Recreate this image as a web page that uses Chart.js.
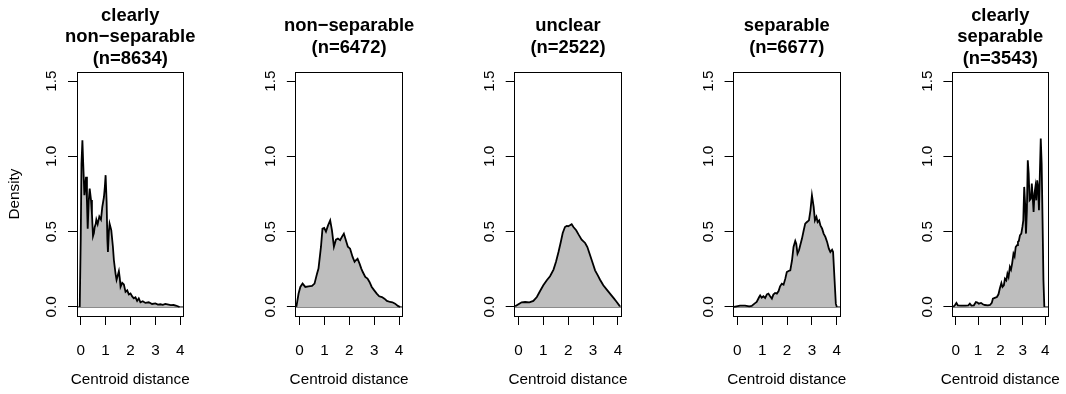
<!DOCTYPE html>
<html>
<head>
<meta charset="utf-8">
<script src="https://cdn.jsdelivr.net/npm/chart.js@4.4.0/dist/chart.umd.min.js"></script>
<style>
  html, body { margin: 0; padding: 0; background: #fff; }
  #wrap { position: relative; width: 1066px; height: 394px; }
  #wrap canvas { position: absolute; left: 0; top: 0; }
</style>
</head>
<body>
<div id="wrap"></div>
<script>
// panel titles, axis ticks and limits
var titles = [
  ["clearly", "non\u2212separable", "(n=8634)"],
  ["non\u2212separable", "(n=6472)"],
  ["unclear", "(n=2522)"],
  ["separable", "(n=6677)"],
  ["clearly", "separable", "(n=3543)"]
];
var xLabel = "Centroid distance";
var yLabel = "Density";
var xTicks = [0, 1, 2, 3, 4];
var yTicks = [0, 0.5, 1, 1.5];
var xRange = [-0.15, 4.13];
var yRange = [-0.06, 1.56];

// density curves, [centroid distance, density]
var clearlyNonSep = [[-0.04,0],[0.0,0.45],[0.03,0.95],[0.067,1.107],[0.1,0.95],[0.147,0.742],[0.18,0.8],[0.213,0.864],[0.25,0.7],[0.28,0.52],[0.32,0.7],[0.36,0.786],[0.413,0.71],[0.45,0.62],[0.493,0.47],[0.53,0.49],[0.56,0.53],[0.6,0.55],[0.627,0.58],[0.68,0.55],[0.72,0.58],[0.747,0.6],[0.813,0.58],[0.867,0.664],[0.933,0.73],[0.97,0.8],[1.0,0.875],[1.04,0.7],[1.07,0.45],[1.093,0.365],[1.13,0.5],[1.16,0.553],[1.227,0.51],[1.293,0.4],[1.333,0.31],[1.4,0.22],[1.44,0.18],[1.49,0.21],[1.533,0.237],[1.57,0.19],[1.6,0.134],[1.667,0.16],[1.733,0.15],[1.8,0.1],[1.867,0.11],[1.933,0.083],[2.0,0.09],[2.067,0.07],[2.133,0.057],[2.2,0.064],[2.267,0.04],[2.333,0.057],[2.4,0.031],[2.493,0.038],[2.6,0.027],[2.733,0.031],[2.867,0.02],[3.0,0.024],[3.1,0.016],[3.2,0.018],[3.3,0.014],[3.4,0.02],[3.533,0.015],[3.62,0.012],[3.733,0.013],[3.85,0.008],[3.973,0]];
var nonSep = [[-0.13,0],[-0.04,0.089],[0.03,0.133],[0.12,0.155],[0.23,0.133],[0.36,0.137],[0.5,0.14],[0.6,0.155],[0.7,0.22],[0.76,0.255],[0.86,0.4],[0.92,0.52],[0.99,0.525],[1.06,0.5],[1.14,0.54],[1.23,0.575],[1.3,0.51],[1.38,0.4],[1.46,0.447],[1.54,0.454],[1.63,0.443],[1.7,0.465],[1.78,0.487],[1.86,0.443],[1.94,0.4],[2.03,0.387],[2.13,0.332],[2.21,0.3],[2.26,0.31],[2.33,0.32],[2.41,0.288],[2.48,0.255],[2.54,0.232],[2.64,0.2],[2.73,0.188],[2.81,0.166],[2.9,0.133],[3.0,0.11],[3.1,0.089],[3.2,0.071],[3.31,0.066],[3.41,0.055],[3.51,0.04],[3.64,0.033],[3.73,0.031],[3.84,0.022],[3.95,0.007],[4.04,0]];
var unclear = [[-0.13,0.004],[0,0.018],[0.13,0.031],[0.27,0.033],[0.44,0.031],[0.6,0.04],[0.74,0.066],[0.87,0.106],[1.0,0.144],[1.14,0.177],[1.27,0.204],[1.41,0.248],[1.51,0.3],[1.61,0.365],[1.7,0.43],[1.78,0.491],[1.87,0.531],[1.94,0.538],[2.0,0.536],[2.07,0.542],[2.14,0.549],[2.21,0.531],[2.32,0.509],[2.42,0.48],[2.54,0.447],[2.68,0.425],[2.77,0.398],[2.88,0.343],[2.99,0.288],[3.08,0.243],[3.19,0.21],[3.28,0.181],[3.41,0.144],[3.55,0.115],[3.68,0.089],[3.82,0.06],[3.95,0.033],[4.08,0.004]];
var separable = [[-0.13,0],[-0.03,0.004],[0.11,0.009],[0.31,0.009],[0.48,0.004],[0.58,0.007],[0.69,0.022],[0.78,0.033],[0.88,0.066],[0.92,0.077],[0.98,0.062],[1.05,0.071],[1.12,0.06],[1.19,0.084],[1.25,0.089],[1.32,0.071],[1.39,0.055],[1.45,0.082],[1.52,0.093],[1.59,0.089],[1.66,0.106],[1.72,0.137],[1.79,0.155],[1.86,0.148],[1.93,0.188],[1.99,0.232],[2.06,0.239],[2.13,0.243],[2.2,0.31],[2.26,0.398],[2.33,0.438],[2.37,0.42],[2.42,0.354],[2.48,0.376],[2.53,0.41],[2.6,0.454],[2.67,0.509],[2.73,0.553],[2.8,0.564],[2.88,0.575],[2.94,0.642],[3.0,0.741],[3.07,0.664],[3.12,0.575],[3.18,0.598],[3.23,0.564],[3.29,0.575],[3.34,0.542],[3.41,0.52],[3.47,0.487],[3.54,0.465],[3.61,0.432],[3.68,0.387],[3.74,0.365],[3.81,0.38],[3.85,0.365],[3.91,0.177],[3.96,0.022],[4.0,0]];
var clearlySep = [[-0.11,0],[-0.04,0.011],[0.03,0.027],[0.09,0.011],[0.23,0.009],[0.43,0.009],[0.56,0.011],[0.63,0.022],[0.7,0.009],[0.81,0.011],[0.9,0.033],[0.97,0.029],[1.03,0.022],[1.13,0.027],[1.21,0.018],[1.3,0.013],[1.44,0.011],[1.53,0.013],[1.61,0.027],[1.66,0.055],[1.77,0.062],[1.84,0.066],[1.91,0.084],[1.97,0.122],[2.04,0.159],[2.09,0.133],[2.15,0.144],[2.2,0.188],[2.26,0.177],[2.31,0.221],[2.36,0.199],[2.42,0.266],[2.47,0.248],[2.52,0.288],[2.58,0.354],[2.63,0.336],[2.68,0.398],[2.74,0.41],[2.78,0.432],[2.82,0.438],[2.87,0.476],[2.93,0.487],[2.98,0.531],[3.02,0.575],[3.06,0.797],[3.1,0.686],[3.14,0.487],[3.18,0.642],[3.22,0.974],[3.26,0.885],[3.3,0.708],[3.36,0.719],[3.4,0.819],[3.44,0.73],[3.48,0.631],[3.52,0.753],[3.56,0.797],[3.6,0.708],[3.64,0.841],[3.68,0.797],[3.72,0.642],[3.76,0.885],[3.8,1.118],[3.84,0.952],[3.88,0.575],[3.92,0.177],[3.96,0]];

var curves = [clearlyNonSep, nonSep, unclear, separable, clearlySep];

var FONT = '"Liberation Sans", Arial, Helvetica, sans-serif';
Chart.defaults.font.family = FONT;
Chart.defaults.font.size = 15.3;
Chart.defaults.color = '#000';

// R style: bold multi-line title and x label centred on the box, plus the box itself
var rFrame = {
  id: 'rFrame',
  afterDraw: function(chart, args, opts) {
    var ctx = chart.ctx, a = chart.chartArea;
    var lines = opts.lines;
    var cx = (a.left + a.right) / 2;
    ctx.save();
    ctx.fillStyle = '#000';
    ctx.textAlign = 'center';
    ctx.textBaseline = 'middle';
    ctx.font = 'bold 18.4px ' + FONT;
    for (var k = 0; k < lines.length; k++) {
      ctx.fillText(lines[k], cx, 37 + (k - (lines.length - 1) / 2) * 21.5);
    }
    ctx.font = '15.3px ' + FONT;
    ctx.fillText(xLabel, cx, 380);
    var l = Math.round(a.left - 0.5) + 0.5, r = Math.round(a.right - 0.5) + 0.5;
    var t = Math.round(a.top - 0.5) + 0.5, b = Math.round(a.bottom - 0.5) + 0.5;
    ctx.strokeStyle = '#000';
    ctx.lineWidth = 1;
    ctx.strokeRect(l, t, r - l, b - t);
    ctx.restore();
  }
};

var wrap = document.getElementById('wrap');

function makePanel(i) {
  var canvas = document.createElement('canvas');
  canvas.width = 1066;
  canvas.height = 394;
  wrap.appendChild(canvas);
  var boxLeft = 77 + 218.85 * i;
  var boxRight = boxLeft + 106.5;

  new Chart(canvas.getContext('2d'), {
    type: 'line',
    data: {
      datasets: [{
        data: curves[i].map(function(p) { return {x: p[0], y: p[1]}; }),
        borderColor: '#000',
        borderWidth: 1.8,
        backgroundColor: '#bebebe',
        fill: 'origin',
        pointRadius: 0,
        tension: 0
      }, {
        data: xRange.map(function(v) { return {x: v, y: 0}; }),
        borderColor: '#000',
        borderWidth: 1,
        pointRadius: 0,
        fill: false
      }]
    },
    options: {
      responsive: false,
      animation: false,
      devicePixelRatio: 1,
      events: [],
      layout: {
        autoPadding: false,
        padding: {left: boxLeft - 77, right: 1066 - boxRight, top: 72, bottom: 0}
      },
      plugins: {
        legend: {display: false},
        tooltip: {enabled: false},
        title: {display: false},
        rFrame: {lines: titles[i]}
      },
      scales: {
        x: {
          type: 'linear',
          min: xRange[0],
          max: xRange[1],
          afterBuildTicks: function(s) { s.ticks = xTicks.map(function(v) { return {value: v}; }); },
          afterFit: function(s) { s.height = 78; },
          ticks: {
            autoSkip: false,
            maxRotation: 0,
            padding: 16.3,
            callback: function(v) { return String(v); }
          },
          grid: {drawOnChartArea: false, drawTicks: true, tickLength: 9, color: '#000', lineWidth: 1},
          border: {display: true, color: '#000', width: 1}
        },
        y: {
          type: 'linear',
          min: yRange[0],
          max: yRange[1],
          afterBuildTicks: function(s) { s.ticks = yTicks.map(function(v) { return {value: v}; }); },
          afterFit: function(s) { s.width = 77; },
          ticks: {
            minRotation: 90,
            maxRotation: 90,
            crossAlign: 'center',
            padding: 5.4,
            callback: function(v) { return v.toFixed(1); }
          },
          grid: {drawOnChartArea: false, drawTicks: true, tickLength: 9, color: '#000', lineWidth: 1},
          border: {display: true, color: '#000', width: 1},
          title: {display: i === 0, text: yLabel, font: {size: 15.3}, padding: {top: 6, bottom: 0}}
        }
      }
    },
    plugins: [rFrame]
  });
}

for (var i = 0; i < curves.length; i++) makePanel(i);
</script>
</body>
</html>
